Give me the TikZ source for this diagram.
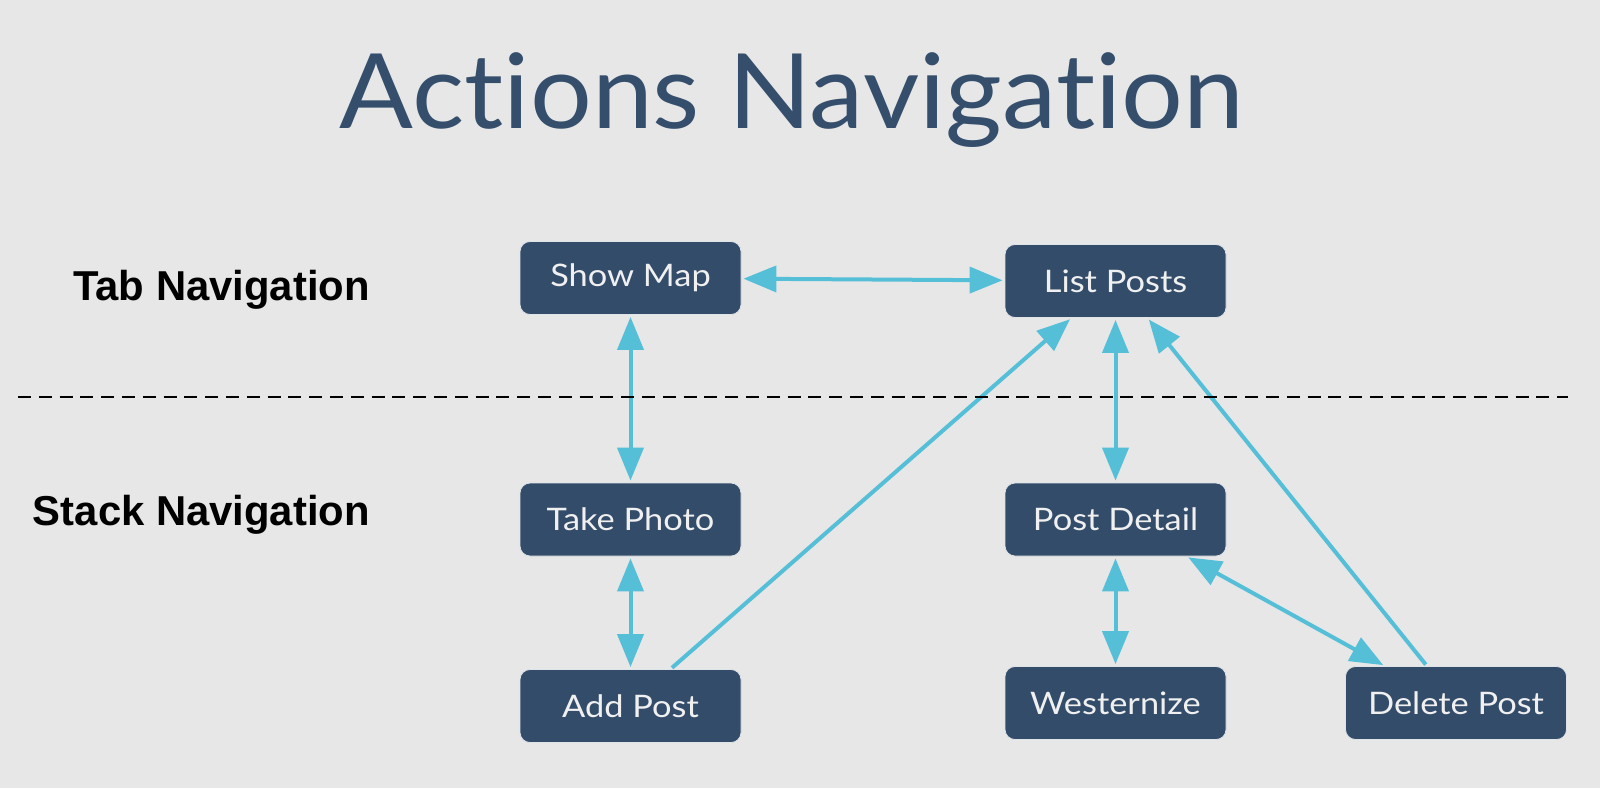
\documentclass[tikz,border=0pt]{standalone}
\usepackage{fontspec}
\setmainfont{Lato}[Ligatures=NoCommon]
\newfontfamily\labelfont{Liberation Sans}
\usetikzlibrary{arrows.meta}
\definecolor{bg}{HTML}{E7E7E7}
\definecolor{boxfill}{HTML}{334C6A}
\definecolor{titlecol}{HTML}{344E6C}
\definecolor{arrowcol}{HTML}{56BFD8}
\definecolor{boxtext}{HTML}{F0F0F0}
\newcommand{\boxtxt}[1]{\scalebox{1.11}[1]{#1}}
\begin{document}
\begin{tikzpicture}[x=1pt,y=-1pt,
  screen/.style={fill=boxfill, draw=white!85!boxfill, line width=0.8pt, rounded corners=10pt,
    minimum width=221pt, minimum height=73pt, inner sep=0pt, text=boxtext,
    font=\fontsize{31}{34}\selectfont},
  link/.style={draw=arrowcol, line width=4pt, shorten >=2pt, shorten <=2pt},
  both/.style={link, arrows={Triangle[length=33pt,width=26pt]-Triangle[length=33pt,width=26pt]}},
  one/.style={link, arrows={-Triangle[length=33pt,width=26pt]}},
  side/.style={font=\labelfont\bfseries\fontsize{41.8}{46}\selectfont, anchor=base east, inner sep=0pt}
]
\useasboundingbox (0,0) rectangle (1600,788);
\fill[bg] (0,0) rectangle (1600,788);

\node[font=\fontsize{104}{110}\selectfont, text=titlecol, anchor=base, inner sep=0pt] (title) at (792,128) {\scalebox{1.05}[1]{Actions Navigation}};

\node[side] (tab) at (370,300.7) {Tab Navigation};
\node[side] (stack) at (370,525) {Stack Navigation};

\node[screen] (sm) at (630.5,278) {\boxtxt{Show Map}};
\node[screen] (lp) at (1115.5,281) {\boxtxt{List Posts}};
\node[screen] (tp) at (630.5,519.5) {\boxtxt{Take Photo}};
\node[screen] (pd) at (1115.5,519.5) {\boxtxt{Post Detail}};
\node[screen] (ap) at (630.5,706) {\boxtxt{Add Post}};
\node[screen] (we) at (1115.5,703) {\boxtxt{Westernize}};
\node[screen] (dp) at (1456,703) {\boxtxt{Delete Post}};

\draw[both] (sm) -- (lp);
\draw[both] (sm) -- (tp);
\draw[both] (tp) -- (ap);
\draw[one] ([xshift=40pt]ap.north) -- ([xshift=-44pt]lp.south);
\draw[both] (lp) -- (pd);
\draw[both] (pd) -- (we);
\draw[both] ([xshift=71pt]pd.south) -- ([xshift=-71pt]dp.north);
\draw[one] ([xshift=-29pt]dp.north) -- ([xshift=32pt]lp.south);

\coordinate (divl) at (18,397);
\coordinate (divr) at (1568,397);
\draw[black, line width=2.6pt, dash pattern=on 13pt off 7.8pt] (divl) -- (divr);
\end{tikzpicture}
\end{document}
